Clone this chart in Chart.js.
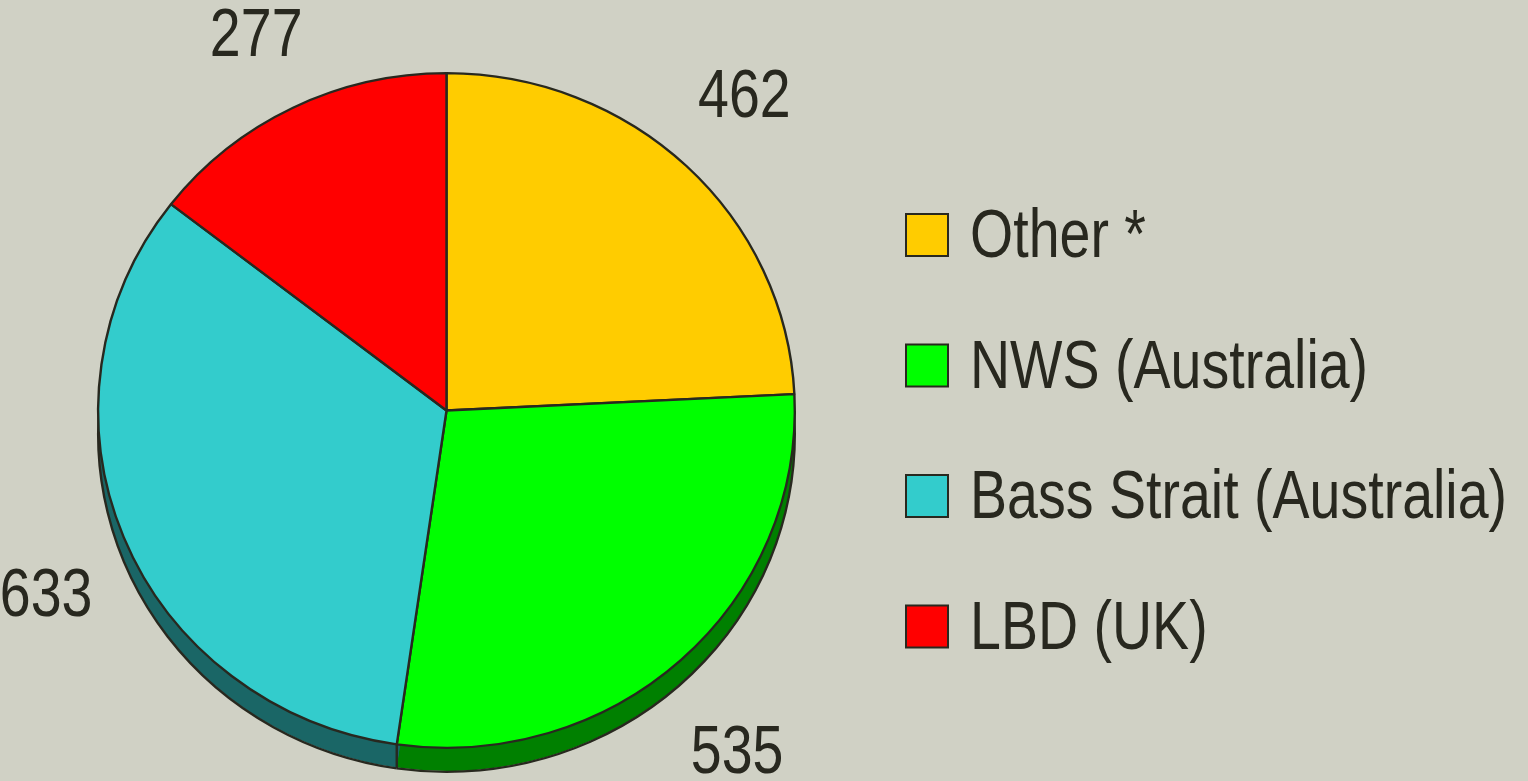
<!DOCTYPE html>
<html>
<head>
<meta charset="utf-8">
<script src="https://cdn.jsdelivr.net/npm/chart.js@4.4.1/dist/chart.umd.min.js"></script>
<style>
  html, body { margin: 0; padding: 0; background: #d0d1c5; }
</style>
</head>
<body>
<canvas id="pieChart" width="1528" height="781"></canvas>
<script>
const labels = ['Other *', 'NWS (Australia)', 'Bass Strait (Australia)', 'LBD (UK)'];
const values = [462, 535, 633, 277];
const colors = ['#ffcc00', '#00ff00', '#33cccc', '#ff0000'];
const shadowColors = ['#806600', '#008000', '#1a6666', '#800000'];

const FONT = '"Liberation Sans", Arial, sans-serif';
const NARROW = 0.805;      // no narrow face installed, so squeeze the text
const INK = '#28281f';
const DEPTH = 24;          // rim depth in px
const TILT = 675 / 697;    // pie is slightly flattened

// draw text squeezed horizontally
function narrowText(ctx, text, x, y) {
    ctx.save();
    ctx.scale(NARROW, 1);
    ctx.fillText(text, x / NARROW, y);
    ctx.restore();
}

// flatten the pie and add a 3D rim under it, then put the values outside
const tiltPlugin = {
    id: 'tilt',
    beforeDatasetsDraw(chart) {
        const ctx = chart.ctx;
        const arcs = chart.getDatasetMeta(0).data;
        const cy = arcs[0].y;
        const d = DEPTH / TILT;
        ctx.save();
        ctx.translate(0, cy);
        ctx.scale(1, TILT);
        ctx.translate(0, -cy);

        arcs.forEach((arc, i) => {
            const p = arc.getProps(['x', 'y', 'startAngle', 'endAngle', 'outerRadius'], true);
            ctx.fillStyle = shadowColors[i];
            for (let dy = 0; dy <= d; dy++) {
                ctx.beginPath();
                ctx.moveTo(p.x, p.y + dy);
                ctx.arc(p.x, p.y + dy, p.outerRadius, p.startAngle, p.endAngle);
                ctx.closePath();
                ctx.fill();
            }
        });
        ctx.strokeStyle = INK;
        ctx.lineWidth = 2.4;
        arcs.forEach((arc) => {
            const p = arc.getProps(['x', 'y', 'startAngle', 'endAngle', 'outerRadius'], true);
            ctx.beginPath();
            ctx.arc(p.x, p.y + d, p.outerRadius, p.startAngle, p.endAngle);
            ctx.stroke();
            if (Math.sin(p.startAngle) > 0) {
                const px = p.x + p.outerRadius * Math.cos(p.startAngle);
                const py = p.y + p.outerRadius * Math.sin(p.startAngle);
                ctx.beginPath();
                ctx.moveTo(px, py);
                ctx.lineTo(px, py + d);
                ctx.stroke();
            }
        });
        // transform stays on while Chart.js draws the slices
    },
    afterDatasetsDraw(chart) {
        const ctx = chart.ctx;
        ctx.restore();

        const arcs = chart.getDatasetMeta(0).data;
        const size = 69;
        ctx.save();
        ctx.font = size + 'px ' + FONT;
        ctx.fillStyle = INK;
        ctx.textAlign = 'center';
        ctx.textBaseline = 'middle';
        arcs.forEach((arc, i) => {
            const p = arc.getProps(['x', 'y', 'startAngle', 'endAngle', 'outerRadius'], true);
            const mid = (p.startAngle + p.endAngle) / 2;
            const r = p.outerRadius * 1.24;
            const tx = p.x + r * Math.cos(mid);
            let ty = p.y + r * Math.sin(mid) + (Math.sin(mid) > 0 ? DEPTH : 0);
            // keep labels inside the canvas
            ty = Math.max(ty, 12 + size * 0.36);
            ty = Math.min(ty, chart.height - size * 0.36);
            narrowText(ctx, String(values[i]), tx, ty);
        });
        ctx.restore();
    }
};

// legend on the right
const sideLegend = {
    id: 'sideLegend',
    afterDraw(chart) {
        const ctx = chart.ctx;
        const boxX = 906, box = 42, textX = 970, firstY = 235, step = 130.5;
        ctx.save();
        ctx.font = '69px ' + FONT;
        ctx.textBaseline = 'middle';
        ctx.textAlign = 'left';
        labels.forEach((label, i) => {
            const cy = firstY + i * step;
            ctx.fillStyle = colors[i];
            ctx.fillRect(boxX, cy - box / 2, box, box);
            ctx.strokeStyle = INK;
            ctx.lineWidth = 2;
            ctx.strokeRect(boxX, cy - box / 2, box, box);
            ctx.fillStyle = INK;
            narrowText(ctx, label, textX, cy + 3);
        });
        ctx.restore();
    }
};

const ctx = document.getElementById('pieChart').getContext('2d');
const pieChart = new Chart(ctx, {
    type: 'pie',
    data: {
        labels: labels,
        datasets: [{
            data: values,
            backgroundColor: colors,
            borderColor: INK,
            borderWidth: 2.4
        }]
    },
    options: {
        responsive: false,
        animation: false,
        devicePixelRatio: 1,
        layout: { padding: { left: 97, right: 732, top: 61, bottom: 21 } },
        plugins: {
            legend: { display: false },
            tooltip: { enabled: false }
        }
    },
    plugins: [tiltPlugin, sideLegend]
});
</script>
</body>
</html>
